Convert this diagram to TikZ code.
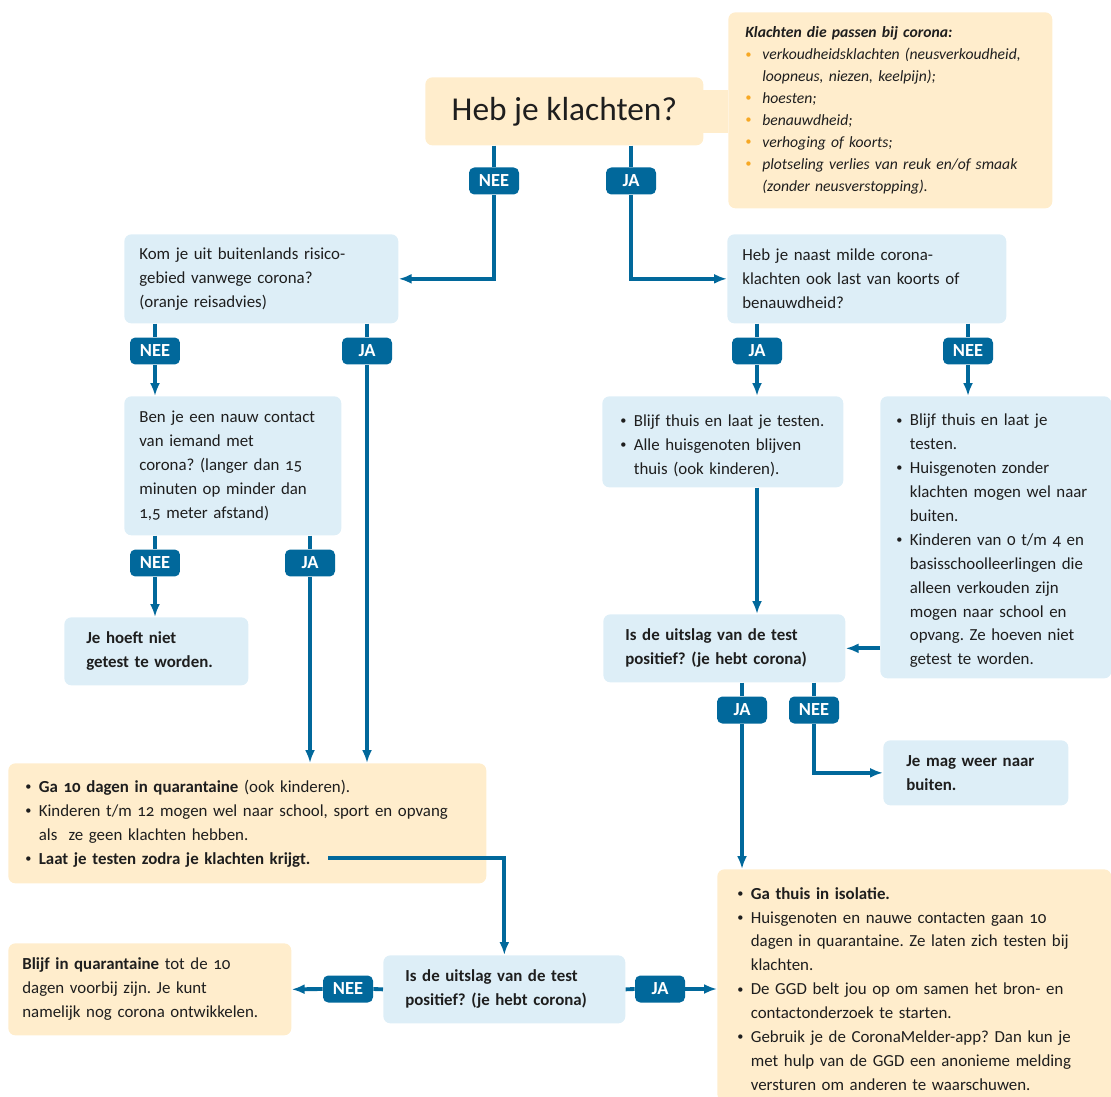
\documentclass[tikz,border=0pt]{standalone}
\usepackage{fontspec}
\setmainfont{Carlito}[Numbers=OldStyle]
\usetikzlibrary{arrows.meta}

\definecolor{rijksblauw}{HTML}{01689B}
\definecolor{lichtblauw}{HTML}{DDEEF7}
\definecolor{lichtgeel}{HTML}{FFEDCC}
\definecolor{geeloranje}{HTML}{F7A823}
\definecolor{tekst}{HTML}{1E1E1E}

\frenchspacing
\setlength{\parindent}{0pt}
\newlength{\puntbreed}
\setlength{\puntbreed}{0.27cm}
\newcommand{\punt}[2][tekst]{\par\noindent\hangindent=\puntbreed\hangafter=1\makebox[\puntbreed][l]{\textcolor{#1}{\raisebox{0.1em}{\scriptsize\textbullet}}}#2\par}
\newcommand{\tekstmaat}{\fontsize{9.6}{13.6}\selectfont}

\tikzset{
  vak/.style={anchor=north west, rounded corners=4pt, inner ysep=0pt, text=tekst, font=\tekstmaat},
  blauwvak/.style={vak, fill=lichtblauw},
  geelvak/.style={vak, fill=lichtgeel},
  antwoord/.style={fill=rijksblauw, text=white, rounded corners=3pt, minimum width=1cm, minimum height=0.54cm, inner sep=0pt, font=\bfseries\fontsize{10.5}{11}\selectfont},
  lijn/.style={rijksblauw, line width=2.2pt},
  pijl/.style={lijn, -{Latex[length=0.26cm,width=0.2cm]}}
}

\begin{document}
\begin{tikzpicture}[x=0.02cm, y=-0.02cm]
  \useasboundingbox (0,0) rectangle (1111,1097);

  \node[geelvak, minimum width=5.56cm, minimum height=1.36cm, font=\fontsize{19}{22}\selectfont] (vraag) at (425,77) {Heb je klachten?};
  \fill[lichtgeel] (703,90) rectangle (728,133);
  \node[geelvak, minimum width=6.48cm, minimum height=3.92cm, inner xsep=0.34cm, text width=5.8cm, font=\itshape\fontsize{8.9}{12.5}\selectfont] (klachten) at (728,12) {\setlength{\puntbreed}{0.34cm}\textbf{Klachten die passen bij corona:}\punt[geeloranje]{verkoudheidsklachten (neusverkoudheid,\newline loopneus, niezen, keelpijn);}\punt[geeloranje]{hoesten;}\punt[geeloranje]{benauwdheid;}\punt[geeloranje]{verhoging of koorts;}\punt[geeloranje]{plotseling verlies van reuk en/of smaak\newline (zonder neusverstopping).}};

  \node[blauwvak, minimum width=5.48cm, minimum height=1.78cm, inner xsep=0.3cm, text width=4.88cm] (buitenland) at (124,234) {Kom je uit buitenlands risico-\newline gebied vanwege corona?\newline (oranje reisadvies)};
  \node[blauwvak, minimum width=5.58cm, minimum height=1.78cm, inner xsep=0.3cm, text width=4.98cm] (zwaar) at (727,234) {Heb je naast milde corona-\newline klachten ook last van koorts of\newline benauwdheid?};
  \node[blauwvak, minimum width=4.34cm, minimum height=2.78cm, inner xsep=0.3cm, text width=3.74cm] (contact) at (124,396) {Ben je een nauw contact\newline van iemand met\newline corona? (langer dan 15\newline minuten op minder dan\newline 1,5 meter afstand)};
  \node[blauwvak, minimum width=3.68cm, minimum height=1.36cm, inner xsep=0.44cm, text width=2.8cm] (niettesten) at (64,617) {\bfseries Je hoeft niet\newline getest te worden.};
  \node[blauwvak, minimum width=4.82cm, minimum height=1.82cm, inner xsep=0.36cm, text width=4.1cm] (thuis) at (602,396) {\punt{Blijf thuis en laat je testen.}\punt{Alle huisgenoten blijven\newline thuis (ook kinderen).}\vspace{0.1cm}};
  \node[blauwvak, minimum width=4.62cm, minimum height=5.64cm, inner xsep=0.32cm, text width=3.98cm] (mild) at (880,396) {\punt{Blijf thuis en laat je\newline testen.}\punt{Huisgenoten zonder\newline klachten mogen wel naar\newline buiten.}\punt{Kinderen van 0 t/m 4 en\newline basisschoolleerlingen die\newline alleen verkouden zijn\newline mogen naar school en\newline opvang. Ze hoeven niet\newline getest te worden.}\vspace{0.1cm}};
  \node[blauwvak, minimum width=4.84cm, minimum height=1.36cm, inner xsep=0.44cm, text width=3.96cm] (uitslagA) at (603,614) {\bfseries Is de uitslag van de test\newline positief? (je hebt corona)};
  \node[blauwvak, minimum width=3.7cm, minimum height=1.3cm, inner xsep=0.46cm, text width=2.78cm] (naarbuiten) at (883,740) {\bfseries Je mag weer naar\newline buiten.};
  \node[geelvak, minimum width=9.56cm, minimum height=2.4cm, inner xsep=0.34cm, text width=8.88cm] (quarantaine) at (8,763) {\punt{\textbf{Ga 10 dagen in quarantaine} (ook kinderen).}\punt{Kinderen t/m 12 mogen wel naar school, sport en opvang\newline als~ ze geen klachten hebben.}\punt{\textbf{Laat je testen zodra je klachten krijgt.}}\vspace{0.22cm}};
  \node[blauwvak, minimum width=4.84cm, minimum height=1.36cm, inner xsep=0.44cm, text width=3.96cm] (uitslagB) at (383,955) {\bfseries Is de uitslag van de test\newline positief? (je hebt corona)};
  \node[geelvak, minimum width=5.66cm, minimum height=1.84cm, inner xsep=0.28cm, text width=5.1cm] (blijf) at (8,943) {\textbf{Blijf in quarantaine} tot de 10\newline dagen voorbij zijn. Je kunt\newline namelijk nog corona ontwikkelen.};
  \node[geelvak, minimum width=7.88cm, minimum height=4.64cm, inner xsep=0.4cm, text width=7.08cm] (isolatie) at (717,869) {\punt{\textbf{Ga thuis in isolatie.}}\punt{Huisgenoten en nauwe contacten gaan 10\newline dagen in quarantaine. Ze laten zich testen bij\newline klachten.}\punt{De GGD belt jou op om samen het bron- en\newline contactonderzoek te starten.}\punt{Gebruik je de CoronaMelder-app? Dan kun je\newline met hulp van de GGD een anonieme melding\newline versturen om anderen te waarschuwen.}\vspace{0.1cm}};
  \coordinate (krijgt) at (328,858);

  \node[antwoord] (neeA) at (494,181) {NEE};
  \node[antwoord] (jaA) at (631,181) {JA};
  \node[antwoord] (neeB) at (155,351) {NEE};
  \node[antwoord] (jaB) at (367,351) {JA};
  \node[antwoord] (neeC) at (155,563) {NEE};
  \node[antwoord] (jaC) at (310,563) {JA};
  \node[antwoord] (jaD) at (757,351) {JA};
  \node[antwoord] (neeD) at (968,351) {NEE};
  \node[antwoord] (jaE) at (742,710) {JA};
  \node[antwoord] (neeE) at (814,710) {NEE};
  \node[antwoord] (neeF) at (348,989) {NEE};
  \node[antwoord] (jaF) at (660,989) {JA};

  \draw[lijn] (vraag.south -| neeA) -- (neeA.north);
  \draw[pijl] (neeA.south) |- (buitenland.east);
  \draw[lijn] (vraag.south -| jaA) -- (jaA.north);
  \draw[pijl] (jaA.south) |- (zwaar.west);
  \draw[lijn] (buitenland.south -| neeB) -- (neeB.north);
  \draw[pijl] (neeB.south) -- (neeB |- contact.north);
  \draw[lijn] (buitenland.south -| jaB) -- (jaB.north);
  \draw[pijl] (jaB.south) -- (jaB |- quarantaine.north);
  \draw[lijn] (contact.south -| neeC) -- (neeC.north);
  \draw[pijl] (neeC.south) -- (neeC |- niettesten.north);
  \draw[lijn] (contact.south -| jaC) -- (jaC.north);
  \draw[pijl] (jaC.south) -- (jaC |- quarantaine.north);
  \draw[lijn] (zwaar.south -| jaD) -- (jaD.north);
  \draw[pijl] (jaD.south) -- (jaD |- thuis.north);
  \draw[lijn] (zwaar.south -| neeD) -- (neeD.north);
  \draw[pijl] (neeD.south) -- (neeD |- mild.north);
  \draw[pijl] (jaD |- thuis.south) -- (jaD |- uitslagA.north);
  \draw[pijl] (mild.west |- uitslagA) -- (uitslagA.east);
  \draw[lijn] (uitslagA.south -| jaE) -- (jaE.north);
  \draw[pijl] (jaE.south) -- (jaE |- isolatie.north);
  \draw[lijn] (uitslagA.south -| neeE) -- (neeE.north);
  \draw[pijl] (neeE.south) |- (naarbuiten.west);
  \draw[pijl] (krijgt) -| (uitslagB.north);
  \draw[lijn] (uitslagB.west) -- (neeF.east);
  \draw[pijl] (neeF.west) -- (blijf.east);
  \draw[lijn] (uitslagB.east) -- (jaF.west);
  \draw[pijl] (jaF.east) -- (jaF -| isolatie.west);
\end{tikzpicture}
\end{document}
